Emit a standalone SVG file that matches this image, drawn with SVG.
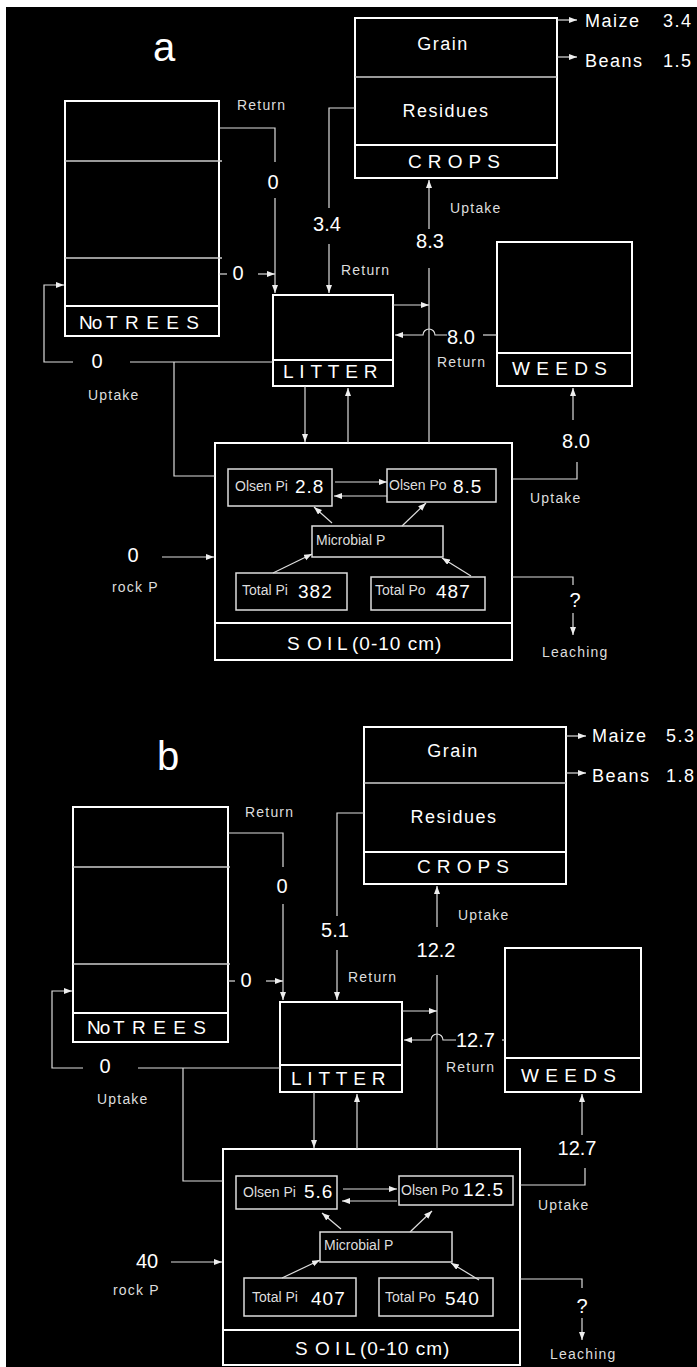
<svg xmlns="http://www.w3.org/2000/svg" width="697" height="1367" viewBox="0 0 697 1367">
<defs>
<marker id="ah" markerUnits="userSpaceOnUse" markerWidth="9" markerHeight="7" refX="8" refY="3" orient="auto">
<path d="M0,0 L8,3 L0,6 z" fill="#eee"/>
</marker>
<style>
.box{fill:none;stroke:#fff;stroke-width:2}
.thin{fill:none;stroke:#ccc;stroke-width:1.3}
.ib{fill:none;stroke:#ddd;stroke-width:1.5}
.con{fill:none;stroke:#ddd;stroke-width:1.2}
.arr{marker-end:url(#ah)}
text{font-family:"Liberation Sans",Arial,sans-serif;fill:#fff}
.title{font-size:40px}
.big{font-size:18px;letter-spacing:1.5px}
.lab{font-size:19px}
.num{font-size:20px}
.sm{font-size:14px;letter-spacing:1.2px;fill:#ddd}
.in{font-size:14px;fill:#ddd}
.val{font-size:19px;letter-spacing:1px}
.mid{text-anchor:middle}
</style>
</defs>
<rect x="0" y="0" width="697" height="1367" fill="#fff"/>
<rect x="6" y="7" width="691" height="1360" fill="#000"/>

<!-- ================= PANEL A ================= -->
<text class="title mid" x="164" y="61">a</text>

<g id="a-notrees">
<rect class="box" x="65" y="101" width="154" height="235"/>
<line class="thin" x1="65" y1="161" x2="222" y2="161"/>
<line class="thin" x1="65" y1="258" x2="222" y2="258"/>
<line class="box" x1="65" y1="306" x2="219" y2="306"/>
<text class="lab" x="79" y="329" letter-spacing="-1">No<tspan x="106" letter-spacing="7.4">TREES</tspan></text>
</g>

<g id="a-crops">
<rect class="box" x="355" y="18" width="202" height="160"/>
<line class="thin" x1="355" y1="77" x2="557" y2="77"/>
<line class="box" x1="355" y1="145" x2="557" y2="145"/>
<text class="big mid" x="443" y="50">Grain</text>
<text class="big mid" x="446" y="117">Residues</text>
<text class="lab" x="408" y="168" letter-spacing="6.1">CROPS</text>
</g>

<g id="a-litter">
<rect class="box" x="273" y="295" width="120" height="91"/>
<line class="box" x1="273" y1="360" x2="393" y2="360"/>
<text class="lab" x="283" y="378" letter-spacing="5.8">LITTER</text>
</g>

<g id="a-weeds">
<rect class="box" x="497" y="242" width="135" height="144"/>
<line class="box" x1="497" y1="353" x2="632" y2="353"/>
<text class="lab" x="512" y="375" letter-spacing="6.3">WEEDS</text>
</g>

<g id="a-soil">
<rect class="box" x="215" y="443" width="297" height="217"/>
<line class="box" x1="215" y1="623" x2="512" y2="623"/>
<text class="lab" x="287" y="650"><tspan x="287">S</tspan><tspan x="307">O</tspan><tspan x="327">I</tspan><tspan x="337">L</tspan><tspan x="352" letter-spacing="1">(0-10 cm)</tspan></text>
</g>
<g id="a-olsenpi">
<rect class="ib" x="228" y="469" width="104" height="37"/>
<text class="in" x="235" y="491">Olsen Pi</text>
<text class="val" x="295" y="493">2.8</text>
</g>
<g id="a-olsenpo">
<rect class="ib" x="387" y="469" width="109" height="33"/>
<text class="in" x="389" y="490">Olsen Po</text>
<text class="val" x="453" y="493">8.5</text>
</g>
<g id="a-microbial">
<rect class="ib" x="312" y="526" width="131" height="31"/>
<text class="in" x="316" y="545">Microbial P</text>
</g>
<g id="a-totalpi">
<rect class="ib" x="236" y="573" width="111" height="37"/>
<text class="in" x="242" y="595">Total Pi</text>
<text class="val" x="298" y="598">382</text>
</g>
<g id="a-totalpo">
<rect class="ib" x="371" y="577" width="114" height="33"/>
<text class="in" x="375" y="595">Total Po</text>
<text class="val" x="436" y="598">487</text>
</g>

<g id="a-connectors">
<polyline class="con" points="220,128 275,128 275,162"/>
<line class="con arr" x1="275" y1="198" x2="275" y2="293"/>
<line class="con" x1="219" y1="274" x2="227" y2="274"/>
<line class="con arr" x1="258" y1="274" x2="275" y2="274"/>
<polyline class="con" points="355,108 329,108 329,208"/>
<line class="con arr" x1="329" y1="244" x2="329" y2="293"/>
<line class="con arr" x1="557" y1="20" x2="577" y2="20"/>
<line class="con arr" x1="557" y1="57" x2="577" y2="57"/>
<line class="con arr" x1="429" y1="229" x2="429" y2="180"/>
<line class="con" x1="429" y1="268" x2="429" y2="443"/>
<line class="con arr" x1="393" y1="305" x2="429" y2="305"/>
<line class="con" x1="483" y1="335" x2="497" y2="335"/>
<path class="con arr" d="M447,335 L435,335 A6,6 0 0 0 423,335 L395,335"/>
<line class="con arr" x1="573" y1="420" x2="573" y2="388"/>
<polyline class="con" points="577,462 577,479 512,479"/>
<line class="con arr" x1="305" y1="386" x2="305" y2="442"/>
<line class="con arr" x1="348" y1="443" x2="348" y2="388"/>
<line class="con" x1="273" y1="362" x2="130" y2="362"/>
<polyline class="con arr" points="73,362 44,362 44,285 64,285"/>
<polyline class="con" points="174,362 174,476 215,476"/>
<line class="con arr" x1="162" y1="557" x2="214" y2="557"/>
<polyline class="con" points="512,577 573,577 573,585"/>
<line class="con arr" x1="573" y1="613" x2="573" y2="635"/>
<line class="con arr" x1="335" y1="482" x2="387" y2="482"/>
<line class="con arr" x1="387" y1="496" x2="334" y2="496"/>
<line class="con arr" x1="332" y1="523" x2="314" y2="507"/>
<line class="con arr" x1="402" y1="526" x2="426" y2="503"/>
<line class="con arr" x1="273" y1="573" x2="312" y2="554"/>
<line class="con arr" x1="471" y1="576" x2="442" y2="558"/>
</g>

<g id="a-labels">
<text class="sm" x="237" y="110">Return</text>
<text class="num mid" x="273" y="189">0</text>
<text class="num mid" x="238" y="280">0</text>
<text class="num mid" x="327" y="231">3.4</text>
<text class="sm" x="341" y="275">Return</text>
<text class="big" x="585" y="27">Maize</text>
<text class="big" x="663" y="27">3.4</text>
<text class="big" x="585" y="67">Beans</text>
<text class="big" x="663" y="67">1.5</text>
<text class="sm" x="450" y="213">Uptake</text>
<text class="num mid" x="430" y="248">8.3</text>
<text class="num" x="447" y="344">8.0</text>
<text class="sm" x="437" y="367">Return</text>
<text class="num mid" x="576" y="448">8.0</text>
<text class="sm" x="530" y="503">Uptake</text>
<text class="num mid" x="97" y="368">0</text>
<text class="sm" x="88" y="400">Uptake</text>
<text class="num mid" x="133" y="562">0</text>
<text class="sm" x="112" y="592">rock P</text>
<text class="num mid" x="575" y="607">?</text>
<text class="sm" x="542" y="657">Leaching</text>
</g>

<!-- ================= PANEL B ================= -->
<text class="title mid" x="168" y="770">b</text>

<g id="b-notrees">
<rect class="box" x="73" y="807" width="155" height="235"/>
<line class="thin" x1="73" y1="867" x2="230" y2="867"/>
<line class="thin" x1="73" y1="964" x2="230" y2="964"/>
<line class="box" x1="73" y1="1013" x2="228" y2="1013"/>
<text class="lab" x="87" y="1034" letter-spacing="-1">No<tspan x="113" letter-spacing="7.4">TREES</tspan></text>
</g>

<g id="b-crops">
<rect class="box" x="364" y="727" width="202" height="157"/>
<line class="thin" x1="364" y1="783" x2="566" y2="783"/>
<line class="box" x1="364" y1="852" x2="566" y2="852"/>
<text class="big mid" x="453" y="757">Grain</text>
<text class="big mid" x="454" y="823">Residues</text>
<text class="lab" x="417" y="873" letter-spacing="6.1">CROPS</text>
</g>

<g id="b-litter">
<rect class="box" x="280" y="1002" width="122" height="90"/>
<line class="box" x1="280" y1="1065" x2="402" y2="1065"/>
<text class="lab" x="291" y="1085" letter-spacing="5.8">LITTER</text>
</g>

<g id="b-weeds">
<rect class="box" x="505" y="948" width="136" height="144"/>
<line class="box" x1="505" y1="1058" x2="641" y2="1058"/>
<text class="lab" x="521" y="1082" letter-spacing="6.3">WEEDS</text>
</g>

<g id="b-soil">
<rect class="box" x="223" y="1149" width="297" height="216"/>
<line class="box" x1="223" y1="1330" x2="520" y2="1330"/>
<text class="lab" x="295" y="1355"><tspan x="295">S</tspan><tspan x="315">O</tspan><tspan x="335">I</tspan><tspan x="345">L</tspan><tspan x="360" letter-spacing="1">(0-10 cm)</tspan></text>
</g>
<g id="b-olsenpi">
<rect class="ib" x="236" y="1176" width="101" height="33"/>
<text class="in" x="243" y="1197">Olsen Pi</text>
<text class="val" x="304" y="1198">5.6</text>
</g>
<g id="b-olsenpo">
<rect class="ib" x="399" y="1176" width="114" height="29"/>
<text class="in" x="401" y="1195">Olsen Po</text>
<text class="val" x="463" y="1196">12.5</text>
</g>
<g id="b-microbial">
<rect class="ib" x="320" y="1232" width="132" height="30"/>
<text class="in" x="324" y="1250">Microbial P</text>
</g>
<g id="b-totalpi">
<rect class="ib" x="244" y="1278" width="112" height="38"/>
<text class="in" x="252" y="1302">Total Pi</text>
<text class="val" x="311" y="1305">407</text>
</g>
<g id="b-totalpo">
<rect class="ib" x="379" y="1278" width="114" height="38"/>
<text class="in" x="385" y="1302">Total Po</text>
<text class="val" x="445" y="1305">540</text>
</g>

<g id="b-connectors">
<polyline class="con" points="228,833 283,833 283,867"/>
<line class="con arr" x1="283" y1="904" x2="283" y2="1000"/>
<line class="con" x1="228" y1="981" x2="235" y2="981"/>
<line class="con arr" x1="266" y1="981" x2="283" y2="981"/>
<polyline class="con" points="364,813 337,813 337,916"/>
<line class="con arr" x1="337" y1="950" x2="337" y2="1000"/>
<line class="con arr" x1="566" y1="736" x2="586" y2="736"/>
<line class="con arr" x1="566" y1="773" x2="586" y2="773"/>
<line class="con arr" x1="437" y1="927" x2="437" y2="886"/>
<line class="con" x1="437" y1="975" x2="437" y2="1149"/>
<line class="con arr" x1="402" y1="1011" x2="437" y2="1011"/>
<line class="con" x1="502" y1="1040" x2="505" y2="1040"/>
<path class="con arr" d="M456,1040 L443,1040 A6,6 0 0 0 431,1040 L404,1040"/>
<line class="con arr" x1="582" y1="1135" x2="582" y2="1094"/>
<polyline class="con" points="585,1168 585,1185 520,1185"/>
<line class="con arr" x1="314" y1="1092" x2="314" y2="1148"/>
<line class="con arr" x1="357" y1="1149" x2="357" y2="1094"/>
<line class="con" x1="280" y1="1068" x2="138" y2="1068"/>
<polyline class="con arr" points="83,1068 52,1068 52,991 72,991"/>
<polyline class="con" points="183,1068 183,1181 223,1181"/>
<line class="con arr" x1="171" y1="1262" x2="222" y2="1262"/>
<polyline class="con" points="520,1279 582,1279 582,1288"/>
<line class="con arr" x1="582" y1="1318" x2="582" y2="1340"/>
<line class="con arr" x1="343" y1="1189" x2="397" y2="1189"/>
<line class="con arr" x1="397" y1="1201" x2="342" y2="1201"/>
<line class="con arr" x1="341" y1="1229" x2="322" y2="1213"/>
<line class="con arr" x1="410" y1="1232" x2="432" y2="1211"/>
<line class="con arr" x1="282" y1="1278" x2="320" y2="1260"/>
<line class="con arr" x1="479" y1="1280" x2="451" y2="1263"/>
</g>

<g id="b-labels">
<text class="sm" x="245" y="817">Return</text>
<text class="num mid" x="282" y="893">0</text>
<text class="num mid" x="246" y="987">0</text>
<text class="num mid" x="335" y="937">5.1</text>
<text class="sm" x="348" y="982">Return</text>
<text class="big" x="592" y="742">Maize</text>
<text class="big" x="666" y="742">5.3</text>
<text class="big" x="592" y="782">Beans</text>
<text class="big" x="666" y="782">1.8</text>
<text class="sm" x="458" y="920">Uptake</text>
<text class="num mid" x="436" y="957">12.2</text>
<text class="num" x="456" y="1047">12.7</text>
<text class="sm" x="446" y="1072">Return</text>
<text class="num mid" x="577" y="1155">12.7</text>
<text class="sm" x="538" y="1210">Uptake</text>
<text class="num mid" x="105" y="1073">0</text>
<text class="sm" x="97" y="1104">Uptake</text>
<text class="num mid" x="147" y="1268">40</text>
<text class="sm" x="113" y="1295">rock P</text>
<text class="num mid" x="582" y="1313">?</text>
<text class="sm" x="550" y="1359">Leaching</text>
</g>
</svg>
